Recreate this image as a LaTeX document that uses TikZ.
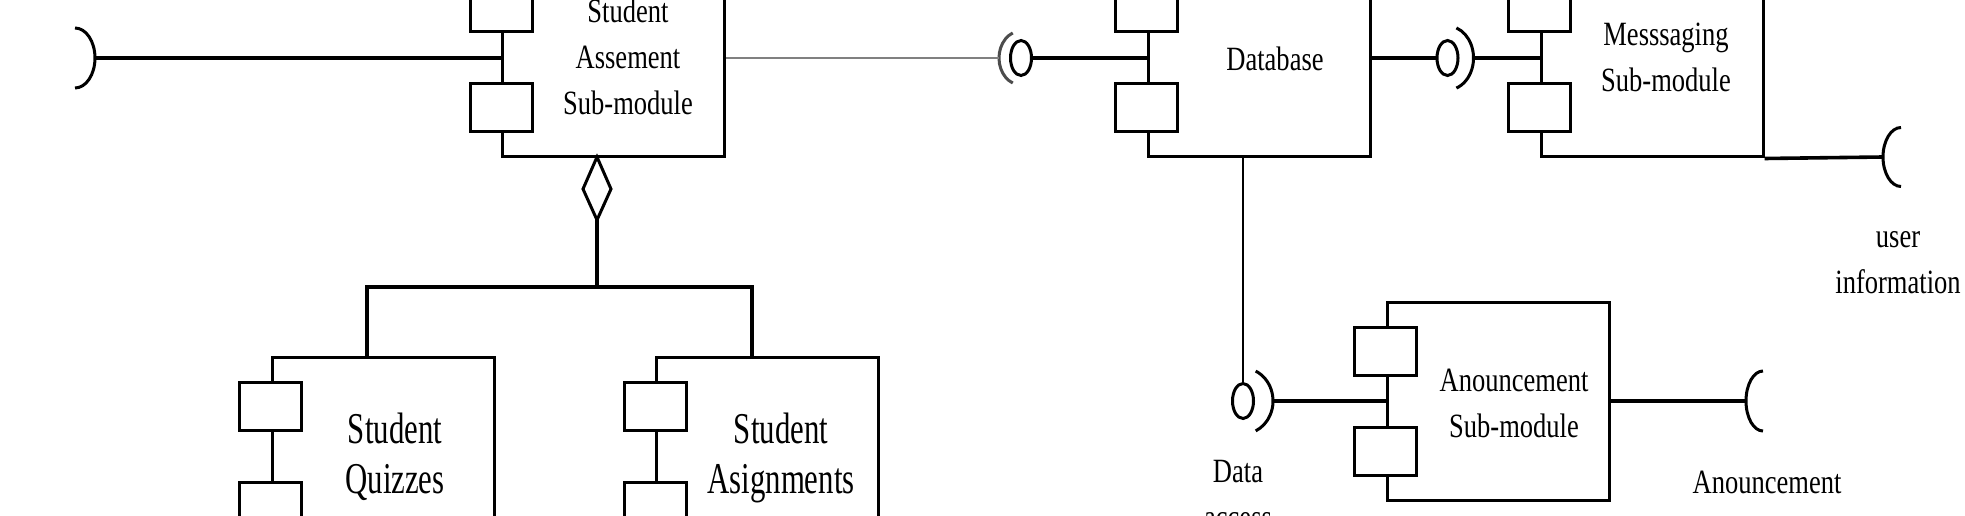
\documentclass[tikz,border=0pt]{standalone}
\usepackage{fontspec}
\setmainfont{Liberation Serif}[FakeStretch=0.78]
\newfontfamily\bigserif{Liberation Serif}[FakeStretch=0.7]
\usetikzlibrary{shapes.geometric}
\begin{document}
\begin{tikzpicture}[x=1pt,y=-1pt,
  comp/.style={draw, line width=3pt, minimum width=222pt, minimum height=198pt, inner sep=0pt},
  port/.style={draw, fill=white, line width=3pt, minimum width=62pt, minimum height=48pt, inner sep=0pt},
  ball/.style={ellipse, draw, fill=white, line width=3pt, minimum width=21pt, minimum height=35pt, inner sep=0pt},
  conn/.style={line width=3.6pt},
  thinconn/.style={line width=2.4pt},
  provided/.style={line width=1.8pt, black!50},
  sockarc/.style={line width=3pt},
  lbl/.style={font=\fontsize{34}{46}\selectfont, align=center, anchor=base, inner sep=0pt},
  biglbl/.style={font=\bigserif\fontsize{44}{50}\selectfont, align=center, anchor=base, inner sep=0pt},
]
\useasboundingbox (0,0) rectangle (1965,516);
\clip (0,0) rectangle (1965,516);

% components
\node[comp] (sa)  at (613.5,58) {};
\node[comp] (db)  at (1259,58) {};
\node[comp] (msg) at (1652,58) {};
\node[comp] (ann) at (1498,401) {};
\node[comp] (qz)  at (383,456) {};
\node[comp] (as)  at (767.5,456) {};

% ports
\foreach \c in {sa,db,msg,ann,qz,as}{
  \node[port] (\c-p1) at ([yshift=50pt]\c.west) {};
  \node[port] (\c-p2) at ([yshift=-50pt]\c.west) {};
}

% labels (anchor = baseline of the last line)
\node[lbl] (sa-t)  at (628,115) {Student\\Assement\\Sub-module};
\node[lbl] (db-t)  at (1275,71) {Database};
\node[lbl] (msg-t) at (1666,92) {Messsaging\\Sub-module};
\node[lbl] (ann-t) at (1514,437) {Anouncement\\Sub-module};
\node[biglbl] (qz-t)  at (395,493) {Student\\Quizzes};
\node[biglbl] (as-t)  at (781,493) {Student\\Asignments};
\node[lbl] (ui-t)  at (1898,293) {user\\information};
\node[lbl] (da-t)  at (1238,528) {Data\\access};
\node[lbl] (an-t)  at (1767,493) {Anouncement};

% left required interface of Student Assesment
\coordinate (saSockC) at (75,58);
\coordinate (saSock) at (95,58);
\draw[sockarc] (saSockC) ++(-90:20 and 30) arc[start angle=-90, end angle=90, x radius=20, y radius=30];
\draw[conn] (saSock) -- (sa.west);

% Student Assesment -> Database provided interface
\node[ball] (dbBall) at (1021,58) {};
\coordinate (dbSock) at (999,58);
\draw[sockarc, black!70] (dbBall.center) ++(112:22 and 27) arc[start angle=112, end angle=248, x radius=22, y radius=27];
\draw[provided] (sa.east) -- (dbSock);
\draw[conn] (dbBall.east) -- (db.west);

% Database -> Messaging
\node[ball] (msgBall) at (1447.5,58) {};
\coordinate (msgSock) at (1473,58);
\draw[sockarc] (msgBall.center) ++(-70:26 and 32) arc[start angle=-70, end angle=70, x radius=26, y radius=32];
\draw[conn] (db.east) -- (msgBall.west);
\draw[conn] (msgSock) -- (msg.west);

% Messaging -> user information
\coordinate (uiC) at (1901,157);
\coordinate (uiSock) at (1883,157);
\draw[sockarc] (uiC) ++(90:18 and 29.5) arc[start angle=90, end angle=270, x radius=18, y radius=29.5];
\draw[conn] (msg.south east) -- (uiSock);

% Database -> Data access -> Anouncement
\node[ball] (annBall) at (1243,401) {};
\coordinate (annSock) at (1273,401);
\draw[thinconn] ([xshift=-16pt]db.south) -- (annBall.north);
\draw[sockarc] (annBall.center) ++(-65:30 and 33) arc[start angle=-65, end angle=65, x radius=30, y radius=33];
\draw[conn] (annSock) -- (ann.west);

% Anouncement required interface
\coordinate (anC) at (1763,401);
\coordinate (anSock) at (1746,401);
\draw[sockarc] (anC) ++(90:17 and 30) arc[start angle=90, end angle=270, x radius=17, y radius=30];
\draw[conn] (ann.east) -- (anSock);

% aggregation
\coordinate (dTop) at (597,157);
\coordinate (dBot) at (597,220);
\draw[line width=3pt] (dTop) -- (611,189) -- (dBot) -- (583,189) -- cycle;
\coordinate (jn) at (597,287);
\draw[conn] (dBot) -- (jn);
\draw[conn] ([xshift=-16pt]qz.north) |- (jn) -| ([xshift=-15.5pt]as.north);
\end{tikzpicture}
\end{document}
